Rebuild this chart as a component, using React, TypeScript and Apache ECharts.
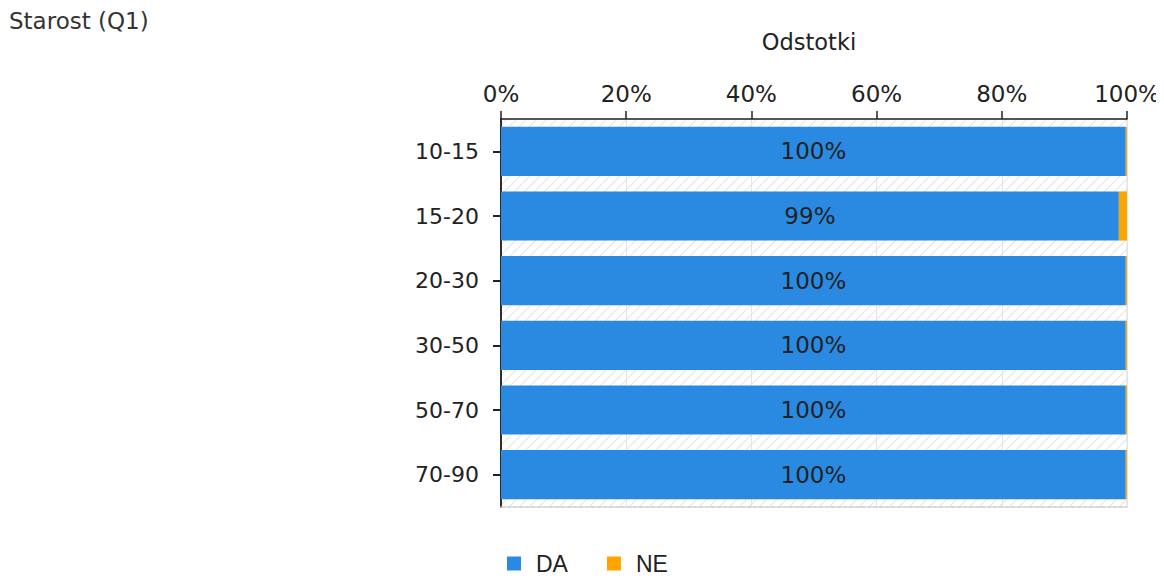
import React, { useEffect, useRef } from "react";
import * as echarts from "echarts";

const categories = ["10-15", "15-20", "20-30", "30-50", "50-70", "70-90"];
const daValues = [99.8, 98.7, 99.8, 99.8, 99.8, 99.8];
const neValues = [0.2, 1.3, 0.2, 0.2, 0.2, 0.2];
const xTicks = [0, 20, 40, 60, 80, 100];
const categoryCenters = categories.map((_, i) => i + 0.5);

function makeHatch(): HTMLCanvasElement {
  const c = document.createElement("canvas");
  c.width = 10;
  c.height = 10;
  const ctx = c.getContext("2d")!;
  ctx.fillStyle = "#ffffff";
  ctx.fillRect(0, 0, 10, 10);
  ctx.strokeStyle = "#e6e6e6";
  ctx.lineWidth = 1.2;
  ctx.beginPath();
  ctx.moveTo(0, 10);
  ctx.lineTo(10, 0);
  ctx.moveTo(-5, 5);
  ctx.lineTo(5, -5);
  ctx.moveTo(5, 15);
  ctx.lineTo(15, 5);
  ctx.stroke();
  return c;
}

export default function App() {
  const ref = useRef<HTMLDivElement>(null);
  useEffect(() => {
    if (!ref.current) return;
    const chart = echarts.init(ref.current, null, { renderer: "svg" });
    const font = "DejaVu Sans";
    chart.setOption({
      animation: false,
      backgroundColor: "#ffffff",
      title: {
        text: "Starost (Q1)",
        left: 1,
        top: 1,
        padding: 0,
        textStyle: { fontFamily: font, fontSize: 23, fontWeight: "normal", color: "#333" },
      },
      legend: {
        bottom: -5,
        left: 494,
        icon: "rect",
        itemWidth: 14,
        itemHeight: 14,
        itemGap: 39,
        textStyle: { fontFamily: "Liberation Sans", fontSize: 23, color: "#222", padding: [0, 0, 0, 10] },
        data: ["DA", "NE"],
      },
      grid: {
        left: 493,
        right: 37,
        top: 111,
        bottom: 68,
        outerBoundsMode: "none",
        containLabel: false,
        show: true,
        borderWidth: 1,
        borderColor: "#dddddd",
        backgroundColor: { image: makeHatch(), repeat: "repeat" },
      },
      xAxis: [
        {
          type: "value",
          position: "top",
          min: 0,
          max: 100,
          interval: 20,
          name: "Odstotki",
          nameLocation: "middle",
          nameGap: 66,
          nameTextStyle: { fontFamily: font, fontSize: 22.5, color: "#222", padding: [0, 10, 0, 0] },
          axisLine: { show: true, lineStyle: { color: "#222", width: 1.5 } },
          axisTick: { show: true, length: 8, lineStyle: { color: "#222", width: 1.5 } },
          axisLabel: {
            fontFamily: font,
            fontSize: 23,
            color: "#222",
            margin: 14,
            formatter: (v: number) => (xTicks.includes(v) ? v + "%" : ""),
          },
          splitLine: { show: true, lineStyle: { color: "#e4e4e4", width: 1 } },
        },
        {
          type: "value",
          position: "bottom",
          min: 0,
          max: 100,
          axisLine: { show: true, lineStyle: { color: "#cfcfcf", width: 1.5, type: [4, 2] } },
          axisTick: { show: false },
          axisLabel: { show: false },
          splitLine: { show: false },
        },
      ],
      yAxis: [
        {
          type: "category",
          data: categories,
          inverse: true,
          axisLine: { show: true, lineStyle: { color: "#222", width: 1.5 } },
          axisTick: { show: true, interval: 0, alignWithLabel: true, length: 8, lineStyle: { color: "#222", width: 2 } },
          axisLabel: { fontFamily: font, fontSize: 22, color: "#222", margin: 22 },
          splitLine: { show: false },
        },
        {
          type: "value",
          position: "left",
          offset: 0,
          min: 0,
          max: categories.length,
          inverse: true,
          axisLine: { show: true, lineStyle: { color: "#222", width: 1.5 } },
          axisTick: {
            show: true,
            customValues: categoryCenters,
            length: 8,
            lineStyle: { color: "#222", width: 2 },
          },
          axisLabel: { show: false },
          splitLine: { show: false },
        },
      ],
      series: [
        {
          name: "DA",
          type: "bar",
          stack: "total",
          data: daValues,
          barCategoryGap: "24%",
          itemStyle: { color: "#2a8ae2" },
          label: {
            show: true,
            position: "inside",
            fontFamily: font,
            fontSize: 23,
            color: "#222",
            formatter: (p: any) => Math.round(p.value) + "%",
          },
        },
        {
          name: "NE",
          type: "bar",
          stack: "total",
          data: neValues,
          barCategoryGap: "24%",
          itemStyle: { color: "#ffa500" },
        },
      ],
    });
    return () => chart.dispose();
  }, []);
  return <div ref={ref} style={{ width: 1156, height: 567 }} />;
}
